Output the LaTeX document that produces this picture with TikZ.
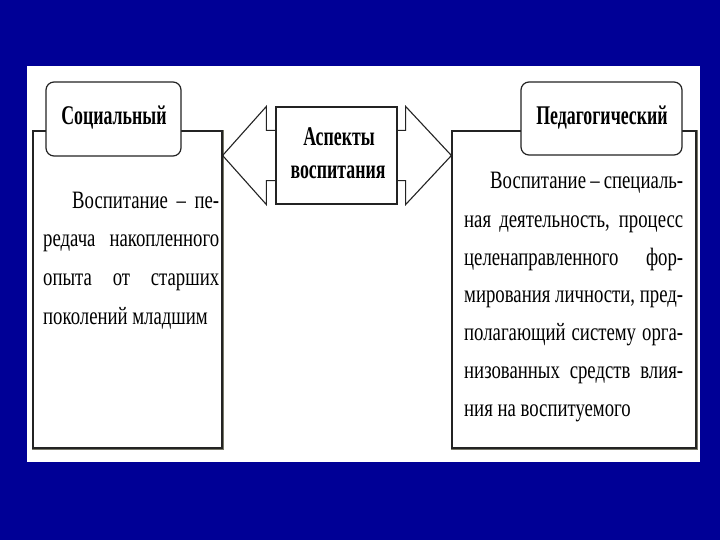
\documentclass[tikz,border=0pt]{standalone}
\usepackage{fontspec}
\setmainfont{Liberation Serif}
\newfontfamily\bodyf{Liberation Serif}[FakeStretch=0.75]
\newfontfamily\headf{Liberation Serif}[FakeStretch=0.66]
\usetikzlibrary{calc}
\definecolor{bgblue}{RGB}{0,0,150}
\definecolor{edge}{RGB}{35,35,35}
\definecolor{shade}{RGB}{120,120,105}
\begin{document}
\begin{tikzpicture}[x=1pt,y=-1pt,
  panel/.style={draw=edge,line width=1.2pt,fill=white,inner sep=0pt},
  tag/.style={draw=edge,line width=1.2pt,fill=white,rounded corners=8pt,inner sep=0pt},
  arrowline/.style={draw=edge,line width=1.1pt,line join=miter},
  shadowline/.style={draw=shade,line width=1pt},
  body/.style={anchor=base west,inner sep=0pt,font=\bodyf\fontsize{25}{29}\selectfont},
  headtxt/.style={anchor=base,inner sep=0pt,font=\headf\bfseries\fontsize{27}{31}\selectfont}]
\useasboundingbox (0,0) rectangle (720,540);
\fill[bgblue] (0,0) rectangle (720,540);
\fill[white] (27,66) rectangle (700,462);

% outer boxes
\node[panel,minimum width=189pt,minimum height=317pt] (social) at (127.5,289.5) {};
\node[panel,minimum width=244pt,minimum height=317pt] (pedag) at (574,289.5) {};
\draw[shadowline] ([xshift=1.3pt]social.north east) -- ([xshift=1.3pt,yshift=-1.3pt]social.south east) -- ([yshift=-1.3pt]social.south west);
\draw[shadowline] ([xshift=1.3pt]pedag.north east) -- ([xshift=1.3pt,yshift=-1.3pt]pedag.south east) -- ([yshift=-1.3pt]pedag.south west);

% tags
\node[tag,minimum width=135pt,minimum height=74pt] (socialtag) at (113.5,119) {};
\node[tag,minimum width=161pt,minimum height=73pt] (pedagtag) at (601.5,118.5) {};
\node[headtxt] (socialtxt) at (114,125) {Социальный};
\node[headtxt] (pedagtxt) at (602,125) {Педагогический};

% centre box and double arrow
\node[panel,minimum width=121pt,minimum height=97pt] (aspects) at (336.5,155.5) {};
\node[headtxt] (asp1) at (339,146) {Аспекты};
\node[headtxt] (asp2) at (338,179) {воспитания};
\coordinate (ltip) at (social.east |- aspects.center);
\coordinate (rtip) at (pedag.west |- aspects.center);
\draw[arrowline] ($(aspects.north west)+(0,24)$) -- ($(aspects.north west)+(-9,24)$) -- ($(aspects.north west)+(-9,0)$) -- (ltip)
  -- ($(aspects.south west)+(-9,0)$) -- ($(aspects.south west)+(-9,-24)$) -- ($(aspects.south west)+(0,-24)$);
\draw[arrowline] ($(aspects.north east)+(0,24)$) -- ($(aspects.north east)+(8,24)$) -- ($(aspects.north east)+(8,0)$) -- (rtip)
  -- ($(aspects.south east)+(8,0)$) -- ($(aspects.south east)+(8,-24)$) -- ($(aspects.south east)+(0,-24)$);

% left text
\node[body] (l1) at (72,208) {\makebox[147pt][s]{Воспитание – пе-}};
\node[body] (l2) at (43,247) {\makebox[176pt][s]{редача накопленного}};
\node[body] (l3) at (43,285.5) {\makebox[176pt][s]{опыта от старших}};
\node[body] (l4) at (43,324) {поколений младшим};

% right text
\node[body] (r1) at (490,189) {\makebox[193pt][s]{Воспитание – специаль-}};
\node[body] (r2) at (464,227) {\makebox[219pt][s]{ная деятельность, процесс}};
\node[body] (r3) at (464,265) {\makebox[219pt][s]{целенаправленного фор-}};
\node[body] (r4) at (464,302.5) {\makebox[219pt][s]{мирования личности, пред-}};
\node[body] (r5) at (464,340.5) {\makebox[219pt][s]{полагающий систему орга-}};
\node[body] (r6) at (464,378.5) {\makebox[219pt][s]{низованных средств влия-}};
\node[body] (r7) at (464,416.5) {ния на воспитуемого};
\end{tikzpicture}
\end{document}
